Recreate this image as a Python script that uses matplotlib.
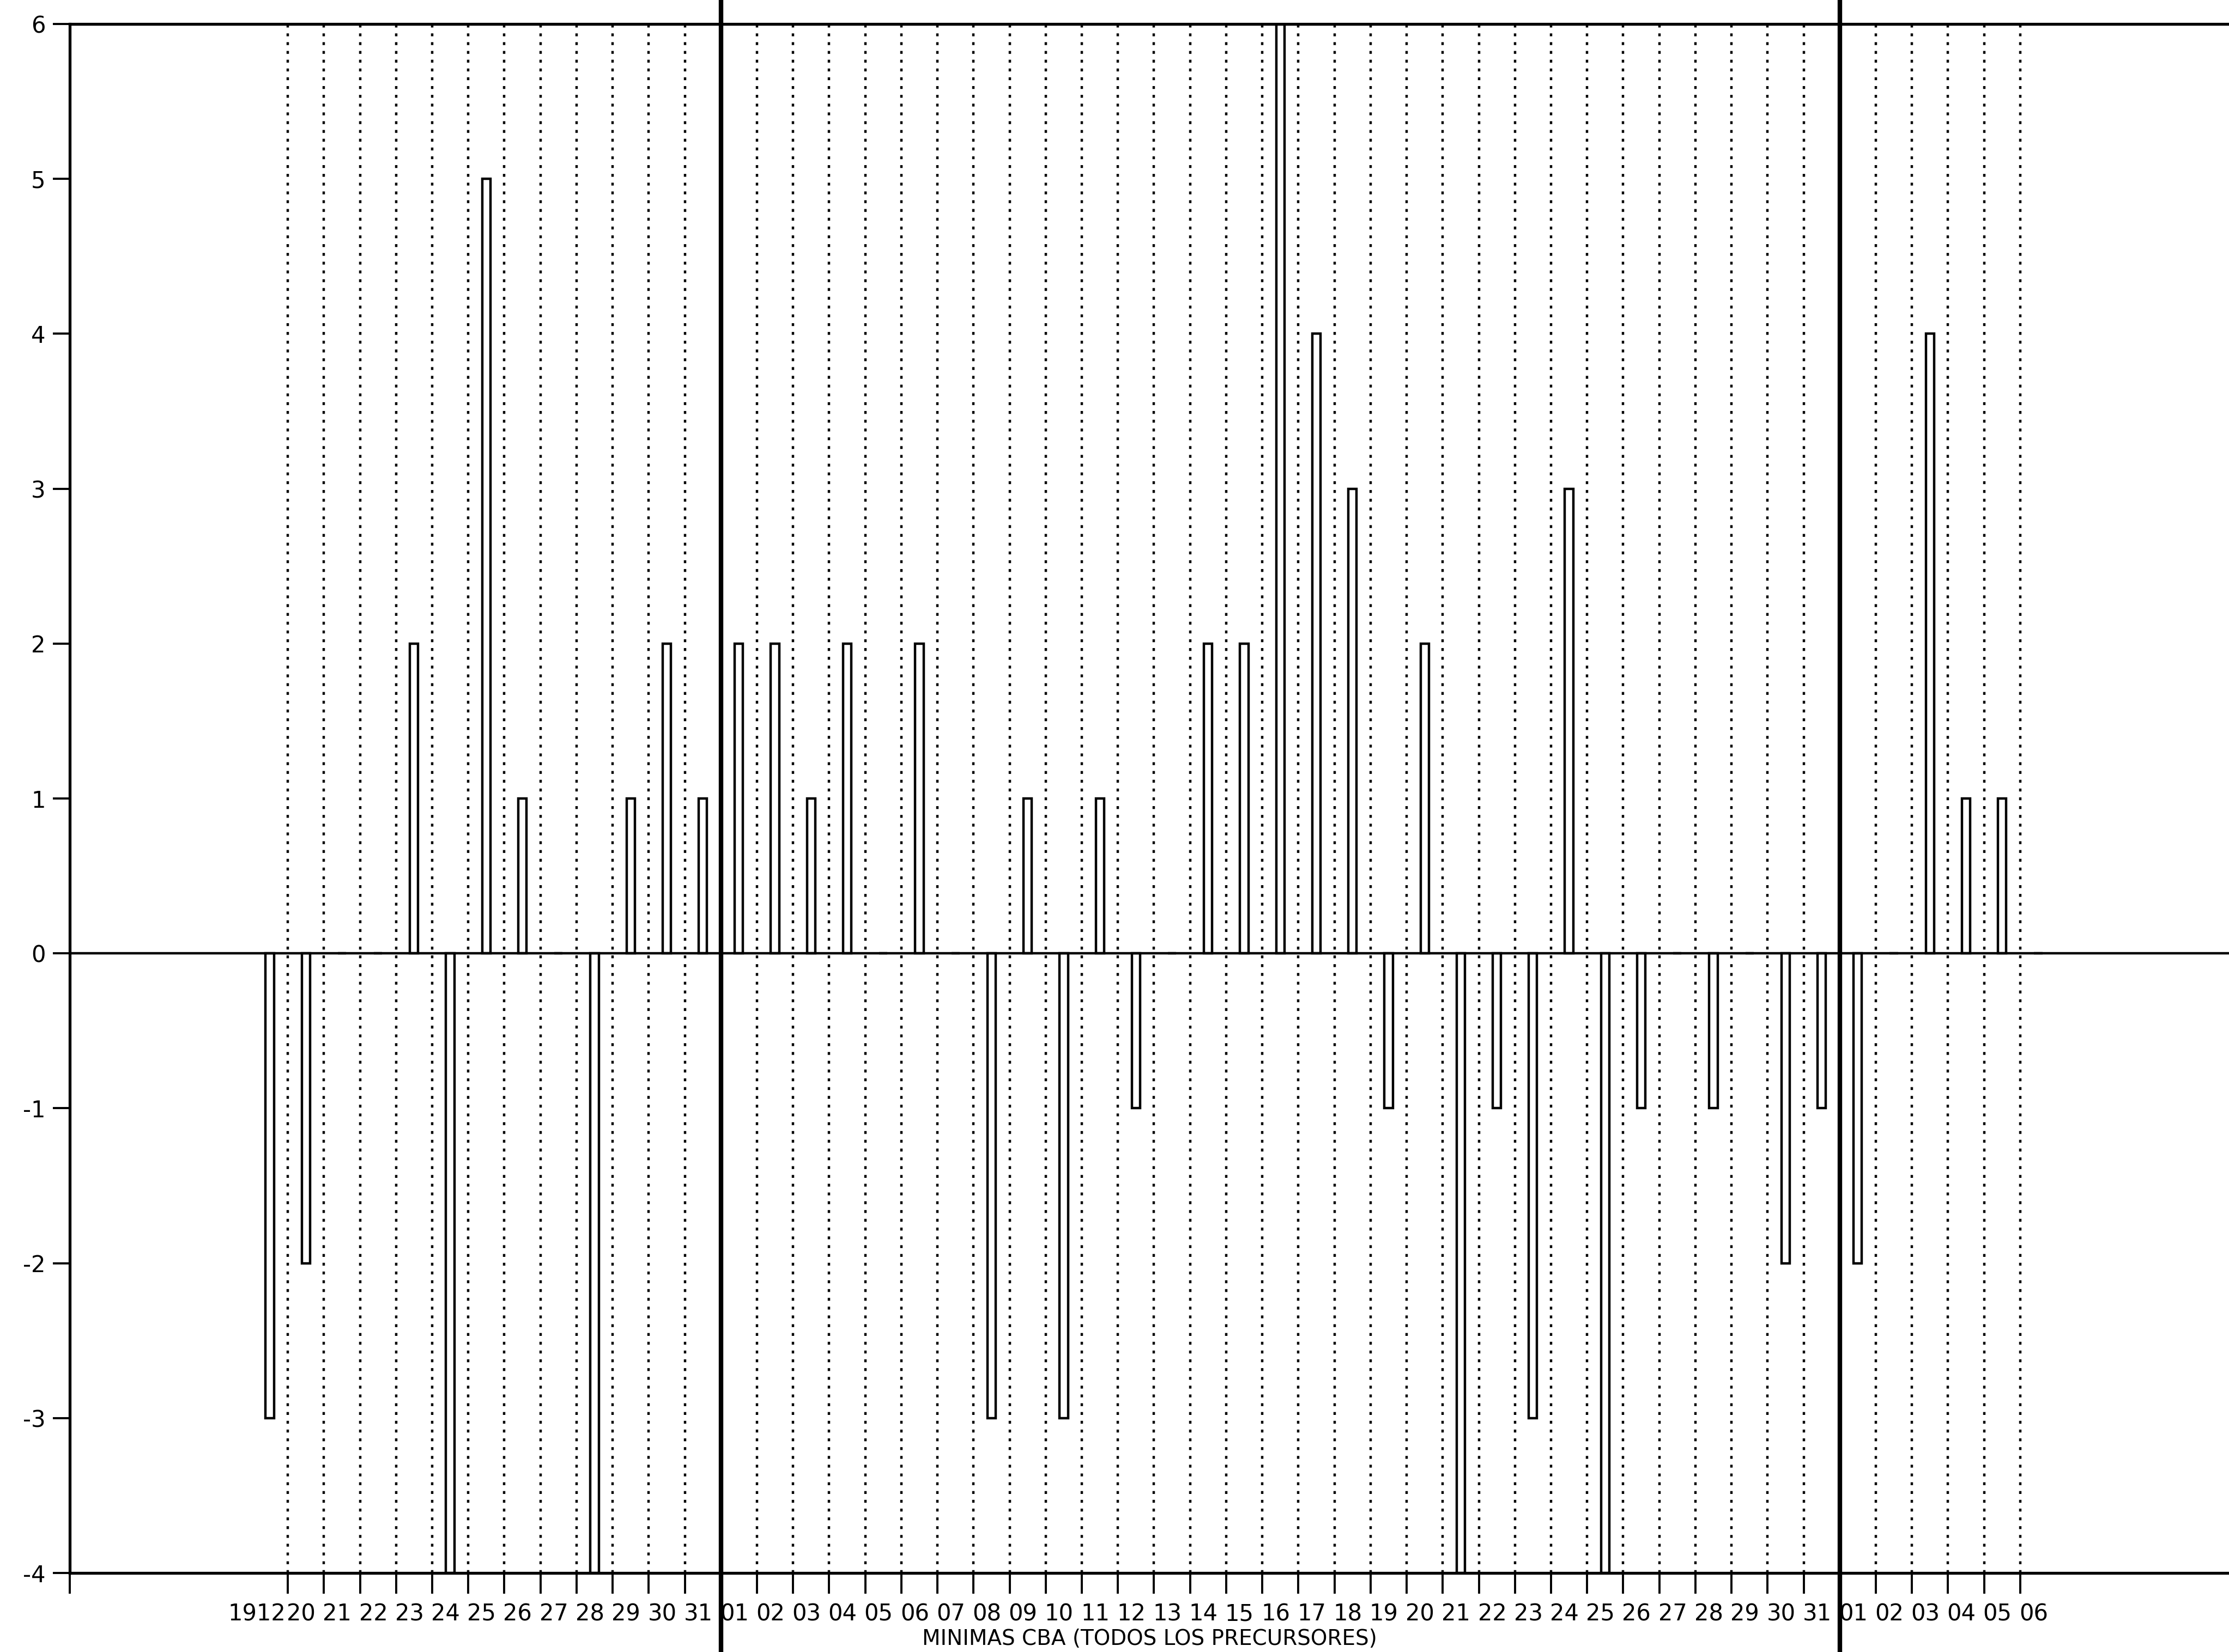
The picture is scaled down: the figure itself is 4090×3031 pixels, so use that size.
import numpy as np
import matplotlib
matplotlib.use('Agg')
import matplotlib.pyplot as plt
import matplotlib.transforms as mtransforms

# Day labels (19 Dec .. 06 Feb) and daily values
day_labels = ['1912', '20', '21', '22', '23', '24', '25', '26', '27', '28', '29', '30', '31',
              '01', '02', '03', '04', '05', '06', '07', '08', '09', '10', '11', '12', '13',
              '14', '15', '16', '17', '18', '19', '20', '21', '22', '23', '24', '25', '26',
              '27', '28', '29', '30', '31',
              '01', '02', '03', '04', '05', '06']
values = [-3, -2, 0, 0, 2, -4, 5, 1, 0, -4, 1, 2, 1,
          2, 2, 1, 2, 0, 2, 0, -3, 1, -3, 1, -1, 0,
          2, 2, 6, 4, 3, -1, 2, -4, -1, -3, 3, -4, -1,
          0, -1, 0, -2, -1,
          -2, 0, 4, 1, 1, 0]
month_starts = [13, 44]  # index of first day of Jan and Feb
y_ticks = [-4, -3, -2, -1, 0, 1, 2, 3, 4, 5, 6]
x_label = 'MINIMAS CBA (TODOS LOS PRECURSORES)'

plt.rcParams['font.family'] = ['DejaVu Sans']
plt.rcParams['lines.scale_dashes'] = False

fig = plt.figure(figsize=(40.91, 30.31), dpi=100)
ax = fig.add_axes([0.0313, 0.0478, 0.9687, 0.9377])

n_days = len(values)
x_left = -5.04
ax.set_xlim(x_left, 54.80)
ax.set_ylim(-4, 6)

# dotted lines at day boundaries, thick solid lines at month changes
for k in range(1, n_days):
    if k in month_starts:
        ax.axvline(k, ymin=-0.06, ymax=1.02, color='black', lw=6.0, clip_on=False, zorder=4)
    else:
        ax.vlines(k, -4, 6, colors='black', lw=3.2, linestyles=(0, (3.8, 7.8)), zorder=1)

# zero line
ax.axhline(0, color='black', lw=3.2, zorder=2)

# hollow bars centred in each day cell
x_centers = np.arange(n_days) + 0.5
ax.bar(x_centers, values, width=0.23, fill=False, edgecolor='black', linewidth=3.2, zorder=3)

# spines
for side in ['left', 'top', 'bottom']:
    ax.spines[side].set_linewidth(3.8)
ax.spines['right'].set_visible(False)

# y axis ticks
ax.set_yticks(y_ticks)
ax.set_yticklabels([str(v) for v in y_ticks])
ax.tick_params(axis='y', direction='out', length=22, width=2.8, pad=10, labelsize=30)

# x axis: tick marks at day boundaries, labels written next to them
ax.set_xticks([x_left] + list(range(1, n_days)))
ax.set_xticklabels([])
ax.tick_params(axis='x', direction='out', length=27, width=2.8)

trans = mtransforms.blended_transform_factory(ax.transData, ax.transAxes)
for i, lab in enumerate(day_labels):
    if i == 0:
        ax.text(0.94, -0.019, lab, transform=trans, ha='right', va='top', fontsize=30)
    else:
        ax.text(i - 0.03, -0.019, lab, transform=trans, ha='left', va='top', fontsize=30)

ax.text(0.5, -0.036, x_label, transform=ax.transAxes, ha='center', va='top', fontsize=28)

fig.savefig('out.png', dpi=100, facecolor='white')
